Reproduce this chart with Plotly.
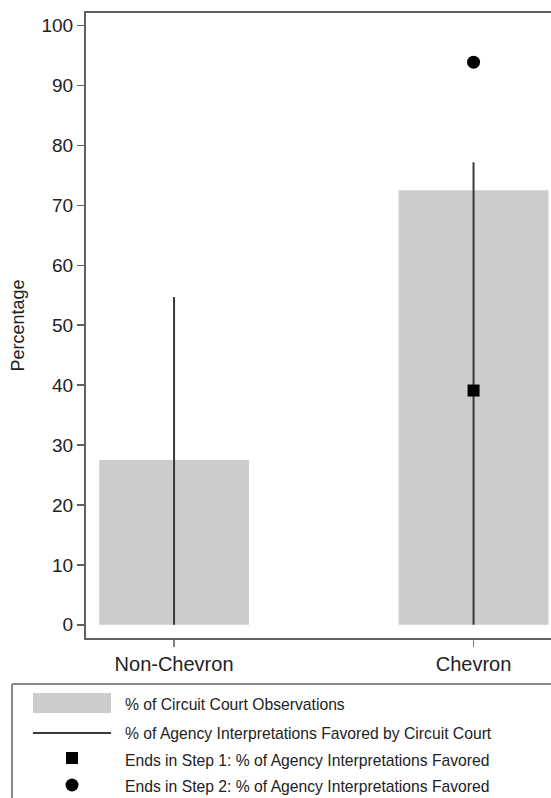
import plotly.graph_objects as go

# ---- data ----
categories = ["Non-Chevron", "Chevron"]
obs_pct = [27.5, 72.5]            # % of Circuit Court Observations (bars)
favored_pct = [54.7, 77.2]        # % of Agency Interpretations Favored (vertical lines)
step1_pct = [None, 39.1]          # Ends in Step 1 (squares)
step2_pct = [None, 93.9]          # Ends in Step 2 (circles)
y_ticks = [0, 10, 20, 30, 40, 50, 60, 70, 80, 90, 100]

legend_labels = [
    "% of Circuit Court Observations",
    "% of Agency Interpretations Favored by Circuit Court",
    "Ends in Step 1: % of Agency Interpretations Favored",
    "Ends in Step 2: % of Agency Interpretations Favored",
]

FONT = "Liberation Sans, Arial, Helvetica, sans-serif"
# the original graphic is cropped on the right; draw slightly wider than the window
W, H = 575, 798
PLOT_TOP, PLOT_BOTTOM = 13, 638
L, R = 86, 0
T = PLOT_TOP
B = H - PLOT_BOTTOM
PW, PH = W - L - R, H - T - B

# category centres at 174 px and 473.5 px
X_MIN = -0.294
X_MAX = X_MIN + PW / 299.5


def px(x):
    """pixel x -> paper x"""
    return (x - L) / PW


def py(y):
    """pixel y -> paper y"""
    return (H - B - y) / PH


fig = go.Figure()

fig.add_trace(go.Bar(
    x=categories, y=obs_pct, width=0.5,
    marker=dict(color="#cccccc", line=dict(width=0)),
    showlegend=False, hoverinfo="skip",
))

lx, ly = [], []
for c, v in zip(categories, favored_pct):
    lx += [c, c, None]
    ly += [0, v, None]
fig.add_trace(go.Scatter(
    x=lx, y=ly, mode="lines",
    line=dict(color="#3a3a3a", width=2),
    showlegend=False, hoverinfo="skip",
))

fig.add_trace(go.Scatter(
    x=categories, y=step1_pct, mode="markers",
    marker=dict(symbol="square", size=12, color="black"),
    showlegend=False,
))
fig.add_trace(go.Scatter(
    x=categories, y=step2_pct, mode="markers",
    marker=dict(symbol="circle", size=13, color="black"),
    showlegend=False,
))

# ---- manual legend (box, keys, text) ----
shapes = []
box_col = "#8a8a8a"
shapes.append(dict(type="line", xref="paper", yref="paper",
                   x0=px(12), x1=px(W + 5), y0=py(684), y1=py(684),
                   line=dict(color=box_col, width=2)))
shapes.append(dict(type="line", xref="paper", yref="paper",
                   x0=px(12), x1=px(12), y0=py(684), y1=py(805),
                   line=dict(color=box_col, width=2)))
# key 1: grey box
shapes.append(dict(type="rect", xref="paper", yref="paper",
                   x0=px(33), x1=px(111), y0=py(713), y1=py(693),
                   fillcolor="#cccccc", line=dict(width=0)))
# key 2: line
shapes.append(dict(type="line", xref="paper", yref="paper",
                   x0=px(33), x1=px(111), y0=py(733), y1=py(733),
                   line=dict(color="#3a3a3a", width=2)))
# key 3: square
shapes.append(dict(type="rect", xref="paper", yref="paper",
                   x0=px(66), x1=px(78), y0=py(764), y1=py(752),
                   fillcolor="black", line=dict(width=0)))
# key 4: circle
shapes.append(dict(type="circle", xref="paper", yref="paper",
                   x0=px(65.5), x1=px(78.5), y0=py(791.5), y1=py(778.5),
                   fillcolor="black", line=dict(width=0)))

text_y = [704, 733, 760, 786]
annotations = []
for lbl, ty in zip(legend_labels, text_y):
    annotations.append(dict(
        text=lbl, xref="paper", yref="paper", x=px(123), y=py(ty),
        xanchor="left", yanchor="middle", showarrow=False,
        font=dict(family=FONT, size=15.7, color="#222222"),
    ))

fig.update_layout(
    width=W, height=H,
    margin=dict(l=L, r=R, t=T, b=B, pad=0),
    paper_bgcolor="white", plot_bgcolor="white",
    font=dict(family=FONT, color="#222222"),
    shapes=shapes, annotations=annotations,
    showlegend=False,
)

fig.update_xaxes(
    type="category", range=[X_MIN, X_MAX],
    showline=True, linecolor="#606060", linewidth=2, mirror=True,
    ticks="outside", ticklen=7, tickwidth=1.5, tickcolor="#808080",
    tickfont=dict(family=FONT, size=20, color="#222222"),
    showgrid=False, zeroline=False,
)
fig.update_yaxes(
    range=[-2.2, 102.1],
    tickmode="array", tickvals=y_ticks, ticktext=[str(v) for v in y_ticks],
    showline=True, linecolor="#606060", linewidth=2,
    ticks="outside", ticklen=7, tickwidth=1.5, tickcolor="#606060",
    tickfont=dict(family=FONT, size=19, color="#222222"),
    title=dict(text="Percentage", font=dict(family=FONT, size=18, color="#222222"), standoff=12),
    showgrid=False, zeroline=False,
)

page_fix = (
    "document.body.style.margin='0';"
    "document.body.style.padding='0';"
    "document.documentElement.style.overflow='hidden';"
    "document.body.style.overflow='hidden';"
)
fig.write_html("out.html", post_script=page_fix,
               config={"displayModeBar": False, "staticPlot": True})
